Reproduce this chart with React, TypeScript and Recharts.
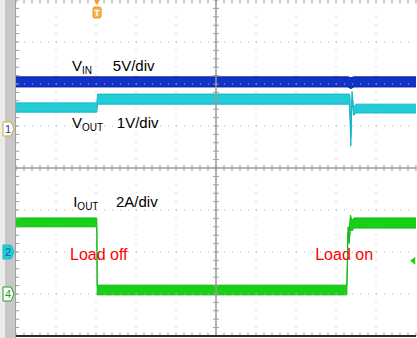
import React from 'react';
import { ComposedChart, Area, XAxis, YAxis, ReferenceLine, ReferenceDot } from 'recharts';

// Horizontal position in screen divisions (10 across), levels in vertical divisions (8 high).
const VIN_T = [0, 8.3, 8.37, 8.45, 10];
const VIN_LO = [5.93, 5.93, 5.89, 5.93, 5.93];
const VIN_HI = [6.17, 6.17, 6.15, 6.17, 6.17];

const VOUT_T = [0, 2.02, 2.04, 8.33, 8.35, 8.37, 8.4, 8.44, 8.5, 10];
const VOUT_LO = [5.33, 5.33, 5.52, 5.52, 5.15, 4.52, 5.62, 5.25, 5.31, 5.31];
const VOUT_HI = [5.55, 5.55, 5.76, 5.76, 5.72, 4.72, 5.82, 5.45, 5.52, 5.52];

const IOUT_T = [0, 2.02, 2.03, 8.27, 8.3, 8.33, 8.36, 8.4, 8.45, 10];
const IOUT_LO = [2.6, 2.6, 0.98, 0.98, 2.45, 2.2, 2.55, 2.5, 2.57, 2.57];
const IOUT_HI = [2.81, 2.81, 1.21, 1.21, 2.6, 2.5, 2.88, 2.75, 2.81, 2.81];

// Channel ground markers on the left edge
const MARKERS = [
  { id: '1', level: 4.93, kind: 'ch1' },
  { id: '2', level: 2.0, kind: 'ch2' },
  { id: '4', level: 1.0, kind: 'ch4' },
];

const TRIGGER_T = 2.025;

const MAJOR_X = [1, 2, 3, 4, 6, 7, 8, 9];
const MAJOR_Y = [1, 2, 3, 5, 6, 7];
const MINOR_X = Array.from({ length: 51 }, (_, i) => +(i * 0.2).toFixed(2));
const MINOR_Y = Array.from({ length: 41 }, (_, i) => +(i * 0.2).toFixed(2));

const BLUE = '#1232c8';
const CYAN = '#22ccd6';
const GREEN = '#18d018';
const GRID = '#b0b0b0';
const FONT = '"Liberation Sans", Arial, sans-serif';

type Row = { t: number; vin?: number[]; vout?: number[]; iout?: number[] };

function buildRows(): Row[] {
  const map = new Map<number, Row>();
  const put = (key: 'vin' | 'vout' | 'iout', ts: number[], lo: number[], hi: number[]) => {
    ts.forEach((t, i) => {
      const row = map.get(t) ?? { t };
      row[key] = [lo[i], hi[i]];
      map.set(t, row);
    });
  };
  put('vin', VIN_T, VIN_LO, VIN_HI);
  put('vout', VOUT_T, VOUT_LO, VOUT_HI);
  put('iout', IOUT_T, IOUT_LO, IOUT_HI);
  return Array.from(map.values()).sort((a, b) => a.t - b.t);
}

const rows = buildRows();

const Label = ({ cx, cy, main, sub, color = '#000', size = 15 }: any) => (
  <text x={cx} y={cy} fill={color} fontFamily={FONT} fontSize={size}>
    {main}
    {sub ? (
      <tspan fontSize={10} dy={3}>
        {sub}
      </tspan>
    ) : null}
  </text>
);

const Marker = ({ cx, cy, id, kind }: any) => {
  const x0 = cx - 13;
  const path = `M${x0},${cy - 7} L${x0 + 8},${cy - 7} L${x0 + 11},${cy} L${x0 + 8},${cy + 7} L${x0},${cy + 7} Z`;
  if (kind === 'ch2') {
    return (
      <g>
        <path d={path} fill={CYAN} stroke="#18b8c8" />
        <text x={x0 + 5} y={cy + 4} fontSize={11} fontFamily={FONT} fill="#1a5ab0" textAnchor="middle">
          {id}
        </text>
      </g>
    );
  }
  const stroke = kind === 'ch1' ? '#c8b030' : '#20a020';
  const tc = kind === 'ch1' ? '#2040b0' : '#20a020';
  return (
    <g>
      <path d={path} fill="#ffffff" stroke={stroke} />
      <text x={x0 + 5} y={cy + 4} fontSize={11} fontFamily={FONT} fill={tc} textAnchor="middle">
        {id}
      </text>
    </g>
  );
};

const TriggerMark = ({ cx, cy }: any) => (
  <g>
    <path d={`M${cx - 3},${cy} L${cx + 3},${cy} L${cx},${cy + 5} Z`} fill="#f0a030" />
    <rect x={cx - 4} y={cy + 7} width={8} height={11} rx={2} fill="#f6b450" stroke="#e89020" />
    <text x={cx} y={cy + 16} fontSize={9} fontFamily={FONT} fill="#ffffff" textAnchor="middle" fontWeight="bold">
      T
    </text>
  </g>
);

const LevelArrow = ({ cx, cy }: any) => (
  <path d={`M${cx - 3},${cy} L${cx + 2},${cy - 4} L${cx + 2},${cy + 4} Z`} fill={GREEN} />
);

export default function App() {
  return (
    <div style={{ position: 'absolute', left: 0, top: 0, width: 417, height: 338, background: '#ffffff', overflow: 'hidden' }}>
      <div style={{ position: 'absolute', left: 0, top: 0, width: 5, height: 338, background: '#ececec' }} />
      <div style={{ position: 'absolute', left: 5, top: 0, width: 10, height: 338, background: '#c8c8c8' }} />
      <div style={{ position: 'absolute', left: 15, top: 0, width: 1, height: 338, background: '#a0a0a0' }} />
      <div style={{ position: 'absolute', left: 0, top: 0 }}>
        <ComposedChart width={417} height={338} data={rows} margin={{ top: 0, right: 1, bottom: 2, left: 16 }}>
          <XAxis type="number" dataKey="t" domain={[0, 10]} hide allowDataOverflow />
          <YAxis type="number" domain={[0, 8]} hide allowDataOverflow />

          {MAJOR_X.map((x) => (
            <ReferenceLine key={`gx${x}`} x={x} stroke={GRID} strokeDasharray="1 7.4" />
          ))}
          {MAJOR_Y.map((y) => (
            <ReferenceLine key={`gy${y}`} y={y} stroke={GRID} strokeDasharray="1 7" />
          ))}
          <ReferenceLine x={5} stroke="#9a9a9a" strokeWidth={1.5} />
          <ReferenceLine y={4} stroke="#9a9a9a" strokeWidth={1.5} />
          {MINOR_X.map((t) => (
            <ReferenceLine key={`cx${t}`} segment={[{ x: t, y: 3.93 }, { x: t, y: 4.07 }]} stroke="#9a9a9a" />
          ))}
          {MINOR_Y.map((v) => (
            <ReferenceLine key={`cy${v}`} segment={[{ x: 4.93, y: v }, { x: 5.07, y: v }]} stroke="#9a9a9a" />
          ))}
          {MINOR_Y.map((v) => (
            <ReferenceLine key={`ly${v}`} segment={[{ x: 0, y: v }, { x: 0.08, y: v }]} stroke="#9a9a9a" />
          ))}
          {MINOR_X.map((t) => (
            <ReferenceLine key={`bx${t}`} segment={[{ x: t, y: 0 }, { x: t, y: 0.08 }]} stroke="#9a9a9a" />
          ))}
          {MINOR_X.map((t) => (
            <ReferenceLine key={`tx${t}`} segment={[{ x: t, y: 8 }, { x: t, y: 7.92 }]} stroke="#9a9a9a" />
          ))}
          <ReferenceLine y={0} stroke="#2a2a2a" strokeWidth={2} />

          <Area type="linear" dataKey="vin" stroke="#0a20a8" strokeWidth={1} fill={BLUE} fillOpacity={1} connectNulls isAnimationActive={false} dot={false} activeDot={false} />
          <Area type="linear" dataKey="vout" stroke="#18b4c4" strokeWidth={1} fill={CYAN} fillOpacity={1} connectNulls isAnimationActive={false} dot={false} activeDot={false} />
          <Area type="linear" dataKey="iout" stroke="#10b810" strokeWidth={1} fill={GREEN} fillOpacity={1} connectNulls isAnimationActive={false} dot={false} activeDot={false} />

          <ReferenceDot x={1.4} y={6.31} r={0} shape={(p: any) => <Label {...p} main="V" sub="IN" />} />
          <ReferenceDot x={2.42} y={6.31} r={0} shape={(p: any) => <Label {...p} main="5V/div" />} />
          <ReferenceDot x={1.4} y={4.95} r={0} shape={(p: any) => <Label {...p} main="V" sub="OUT" />} />
          <ReferenceDot x={2.52} y={4.95} r={0} shape={(p: any) => <Label {...p} main="1V/div" />} />
          <ReferenceDot x={1.43} y={3.07} r={0} shape={(p: any) => <Label {...p} main="I" sub="OUT" />} />
          <ReferenceDot x={2.5} y={3.07} r={0} shape={(p: any) => <Label {...p} main="2A/div" />} />
          <ReferenceDot x={1.35} y={1.81} r={0} shape={(p: any) => <Label {...p} main="Load off" color="#ff0000" size={16} />} />
          <ReferenceDot x={7.48} y={1.81} r={0} shape={(p: any) => <Label {...p} main="Load on" color="#ff0000" size={16} />} />

          {MARKERS.map((m) => (
            <ReferenceDot key={m.id} x={0} y={m.level} r={0} ifOverflow="visible" shape={(p: any) => <Marker {...p} id={m.id} kind={m.kind} />} />
          ))}
          <ReferenceDot x={TRIGGER_T} y={8} r={0} ifOverflow="visible" shape={(p: any) => <TriggerMark {...p} />} />
          <ReferenceDot x={9.93} y={1.79} r={0} ifOverflow="visible" shape={(p: any) => <LevelArrow {...p} />} />
        </ComposedChart>
      </div>
    </div>
  );
}
